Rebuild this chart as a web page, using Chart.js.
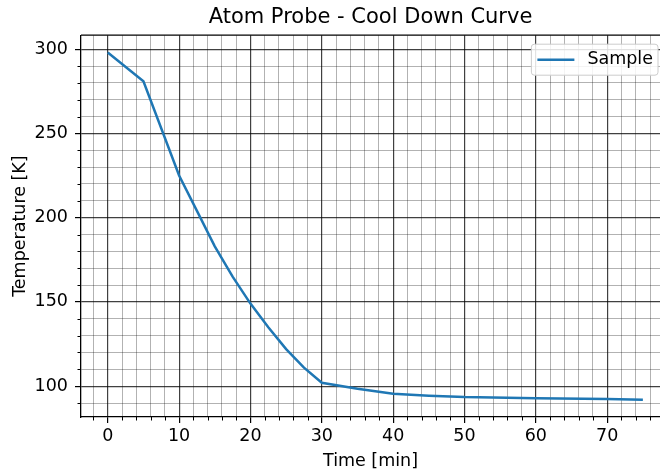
<!DOCTYPE html>
<html>
<head>
<meta charset="utf-8">
<title>Atom Probe - Cool Down Curve</title>
<script src="https://cdn.jsdelivr.net/npm/chart.js@4.4.1/dist/chart.umd.min.js"></script>
<style>
  html, body { margin: 0; padding: 0; background: #fff; }
</style>
</head>
<body>
<canvas id="coolDownCanvas" width="660" height="472"></canvas>
<script>
/* Cool down data */
var timeMin = [0, 5, 10, 12.5, 15, 17.5, 20, 22.5, 25, 27.5, 30, 35, 40, 45, 50, 60, 70, 75];
var tempK   = [298, 281, 225, 204, 183, 165, 149, 135, 122, 111, 102, 98.5, 95.5, 94.3, 93.5, 92.9, 92.4, 92];
var seriesLabel = 'Sample';

// axis ranges and tick spacing
var xMin = -3.75, xMax = 77.4, xMinorStep = 2, xMajorStep = 10;
var yMin = 81.7, yMax = 308.3, yMinorStep = 10, yMajorStep = 50;

var majorGrid = 'rgba(0, 0, 0, 0.75)';
var minorGrid = 'rgba(0, 0, 0, 0.3)';
var fontFamily = '"DejaVu Sans", sans-serif';
var fontSize = 17.5;

Chart.defaults.font.family = fontFamily;
Chart.defaults.font.size = fontSize;
Chart.defaults.color = '#000';

function makeTicks(min, max, step) {
    var ticks = [];
    var start = Math.ceil(min / step) * step;
    for (var v = start; v <= max; v += step) {
        ticks.push({ value: v });
    }
    return ticks;
}

/* top spine, short minor ticks and the boxed legend */
var framePlugin = {
    id: 'frame',
    afterDraw: function(chart) {
        var ctx = chart.ctx;
        var area = chart.chartArea;
        var xs = chart.scales.x;
        var ys = chart.scales.y;

        ctx.save();
        ctx.strokeStyle = '#000';
        ctx.lineWidth = 1.3;
        ctx.beginPath();
        ctx.moveTo(area.left, area.top);
        ctx.lineTo(area.right, area.top);
        ctx.stroke();

        ctx.lineWidth = 1;
        ctx.beginPath();
        xs.ticks.forEach(function(t) {
            if (t.value % xMajorStep !== 0) {
                var px = Math.round(xs.getPixelForValue(t.value)) + 0.5;
                ctx.moveTo(px, area.bottom);
                ctx.lineTo(px, area.bottom + 3.5);
            }
        });
        ys.ticks.forEach(function(t) {
            if (t.value % yMajorStep !== 0) {
                var py = Math.round(ys.getPixelForValue(t.value)) + 0.5;
                ctx.moveTo(area.left, py);
                ctx.lineTo(area.left - 3.5, py);
            }
        });
        ctx.stroke();

        // legend
        var ds = chart.data.datasets[0];
        ctx.font = fontSize + 'px ' + fontFamily;
        var textW = ctx.measureText(ds.label).width;
        var boxW = 6 + 37 + 13 + textW + 5;
        var boxH = 31;
        var bx = area.right - 2 - boxW;
        var by = area.top + 9;
        ctx.beginPath();
        ctx.roundRect(bx, by, boxW, boxH, 3);
        ctx.fillStyle = 'rgba(255, 255, 255, 0.85)';
        ctx.fill();
        ctx.strokeStyle = '#cccccc';
        ctx.lineWidth = 1;
        ctx.stroke();

        ctx.beginPath();
        ctx.strokeStyle = ds.borderColor;
        ctx.lineWidth = ds.borderWidth;
        ctx.moveTo(bx + 6, by + boxH / 2);
        ctx.lineTo(bx + 43, by + boxH / 2);
        ctx.stroke();

        ctx.fillStyle = '#000';
        ctx.textBaseline = 'middle';
        ctx.textAlign = 'left';
        ctx.fillText(ds.label, bx + 56, by + boxH / 2);
        ctx.restore();
    }
};

function drawCoolDown() {
    var ctx = document.getElementById('coolDownCanvas').getContext('2d');
    var points = [];
    for (var i = 0; i < timeMin.length; i++) {
        points.push({ x: timeMin[i], y: tempK[i] });
    }

    var config = {
        type: 'line',
        data: {
            datasets: [{
                label: seriesLabel,
                data: points,
                fill: false,
                borderColor: '#1f77b4',
                backgroundColor: '#1f77b4',
                borderWidth: 2.5,
                pointRadius: 0,
                tension: 0
            }]
        },
        options: {
            responsive: false,
            animation: false,
            layout: { padding: 0 },
            plugins: {
                legend: { display: false },
                tooltip: { enabled: false },
                title: {
                    display: true,
                    text: 'Atom Probe - Cool Down Curve',
                    fullSize: false,
                    color: '#000',
                    font: { size: 21, weight: 'normal' },
                    padding: { top: 5, bottom: 5 }
                }
            },
            scales: {
                x: {
                    type: 'linear',
                    min: xMin,
                    max: xMax,
                    afterBuildTicks: function(scale) {
                        scale.ticks = makeTicks(xMin, xMax, xMinorStep);
                    },
                    afterFit: function(scale) { scale.height = 55; },
                    ticks: {
                        autoSkip: false,
                        maxRotation: 0,
                        padding: 3,
                        callback: function(v) { return v % xMajorStep === 0 ? v : ''; }
                    },
                    grid: {
                        color: function(c) { return c.tick && c.tick.value % xMajorStep === 0 ? majorGrid : minorGrid; },
                        lineWidth: function(c) { return c.tick && c.tick.value % xMajorStep === 0 ? 1.2 : 1; },
                        tickColor: function(c) { return c.tick && c.tick.value % xMajorStep === 0 ? '#000' : 'rgba(0,0,0,0)'; },
                        tickLength: 6
                    },
                    border: { display: true, color: '#000', width: 1.3 },
                    title: {
                        display: true,
                        text: 'Time [min]',
                        padding: { top: 0, bottom: 0 }
                    }
                },
                y: {
                    type: 'linear',
                    min: yMin,
                    max: yMax,
                    afterBuildTicks: function(scale) {
                        scale.ticks = makeTicks(yMin, yMax, yMinorStep);
                    },
                    afterFit: function(scale) { scale.width = 81; },
                    ticks: {
                        autoSkip: false,
                        padding: 7,
                        callback: function(v) { return v % yMajorStep === 0 ? v : ''; }
                    },
                    grid: {
                        color: function(c) { return c.tick && c.tick.value % yMajorStep === 0 ? majorGrid : minorGrid; },
                        lineWidth: function(c) { return c.tick && c.tick.value % yMajorStep === 0 ? 1.2 : 1; },
                        tickColor: function(c) { return c.tick && c.tick.value % yMajorStep === 0 ? '#000' : 'rgba(0,0,0,0)'; },
                        tickLength: 6
                    },
                    border: { display: true, color: '#000', width: 1.3 },
                    title: {
                        display: true,
                        text: 'Temperature [K]',
                        padding: { top: 9.5, bottom: 0 }
                    }
                }
            }
        },
        plugins: [framePlugin]
    };

    var chart = new Chart(ctx, config);
}

drawCoolDown();
</script>
</body>
</html>
